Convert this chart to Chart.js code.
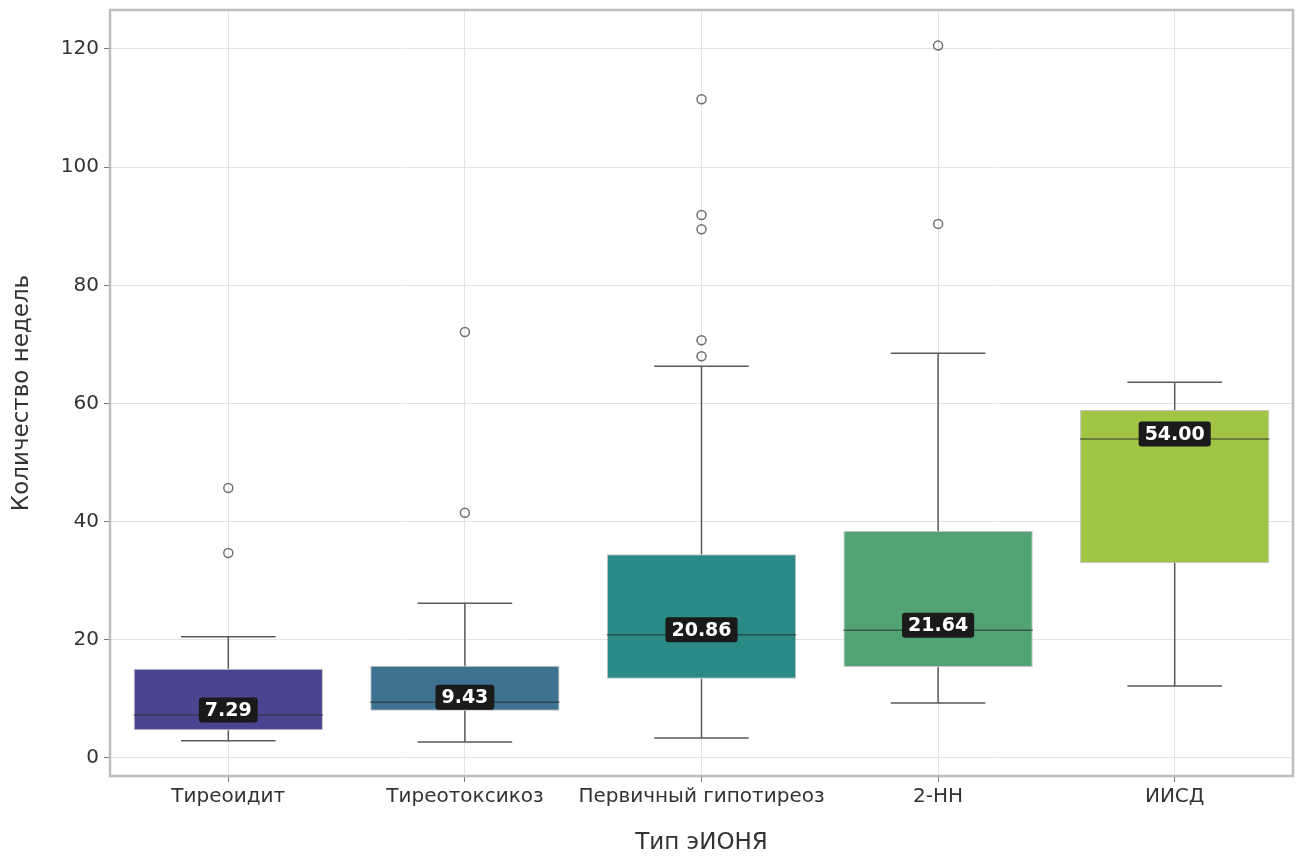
<!DOCTYPE html>
<html>
<head>
<meta charset="utf-8">
<script src="https://cdn.jsdelivr.net/npm/chart.js@4.4.1/dist/chart.umd.min.js"></script>
<style>
  html, body { margin: 0; padding: 0; background: #ffffff; }
  #wrap { width: 1299px; height: 857px; position: relative; }
</style>
</head>
<body>
<div id="wrap"><canvas id="c" width="1299" height="857"></canvas></div>
<script>
// ---- data ----
const categories = ['Тиреоидит', 'Тиреотоксикоз', 'Первичный гипотиреоз', '2-НН', 'ИИСД'];
const whiskerLow  = [2.9, 2.7, 3.4, 9.3, 12.2];
const q1Values    = [4.7, 8.0, 13.4, 15.4, 33.0];
const medianValues= [7.29, 9.43, 20.86, 21.64, 54.00];
const q3Values    = [15.1, 15.6, 34.5, 38.4, 58.9];
const whiskerHigh = [20.5, 26.2, 66.3, 68.5, 63.6];
const outliers1 = [34.7, 45.7];
const outliers2 = [41.5, 72.1];
const outliers3 = [68.0, 70.7, 89.5, 91.9, 111.5];
const outliers4 = [90.4, 120.6];
const outliers5 = [];
const yTicks = [0, 20, 40, 60, 80, 100, 120];

const boxColors = ['#4a4590', '#3f7190', '#2a8a85', '#52a373', '#a0c544'];
const allOutliers = [outliers1, outliers2, outliers3, outliers4, outliers5];

const outlierPoints = [];
allOutliers.forEach((arr, i) => arr.forEach(v => outlierPoints.push({x: categories[i], y: v})));

const FONT = '"DejaVu Sans"';

const boxPlugin = {
  id: 'boxExtras',
  beforeDatasetsDraw(chart) {
    const {ctx, chartArea} = chart;
    ctx.save();
    ctx.strokeStyle = '#bdbdbd';
    ctx.lineWidth = 2.5;
    ctx.strokeRect(chartArea.left, chartArea.top, chartArea.right - chartArea.left, chartArea.bottom - chartArea.top);
    ctx.restore();
    const xs = chart.scales.x, ys = chart.scales.y;
    const band = xs.getPixelForValue(1) - xs.getPixelForValue(0);
    ctx.save();
    ctx.strokeStyle = '#5a5a5a';
    ctx.lineWidth = 1.5;
    categories.forEach((c, i) => {
      const cx = xs.getPixelForValue(i);
      const capHalf = band * 0.2;
      const yl = ys.getPixelForValue(whiskerLow[i]);
      const yh = ys.getPixelForValue(whiskerHigh[i]);
      const yq1 = ys.getPixelForValue(q1Values[i]);
      const yq3 = ys.getPixelForValue(q3Values[i]);
      ctx.beginPath();
      ctx.moveTo(cx, yl); ctx.lineTo(cx, yq1);
      ctx.moveTo(cx, yq3); ctx.lineTo(cx, yh);
      ctx.moveTo(cx - capHalf, yl); ctx.lineTo(cx + capHalf, yl);
      ctx.moveTo(cx - capHalf, yh); ctx.lineTo(cx + capHalf, yh);
      ctx.stroke();
    });
    ctx.restore();
  },
  afterDatasetsDraw(chart) {
    const {ctx} = chart;
    const xs = chart.scales.x, ys = chart.scales.y;
    const band = xs.getPixelForValue(1) - xs.getPixelForValue(0);
    ctx.save();
    categories.forEach((c, i) => {
      const cx = xs.getPixelForValue(i);
      const half = band * 0.4;
      const ym = ys.getPixelForValue(medianValues[i]);
      ctx.strokeStyle = 'rgba(40,40,40,0.6)';
      ctx.lineWidth = 1.5;
      ctx.beginPath();
      ctx.moveTo(cx - half, ym); ctx.lineTo(cx + half, ym);
      ctx.stroke();
      const txt = medianValues[i].toFixed(2);
      ctx.font = 'bold 19px ' + FONT;
      const w = ctx.measureText(txt).width;
      const bw = w + 12, bh = 25;
      const ly = ym - 5;
      ctx.fillStyle = '#1a1a1a';
      ctx.beginPath();
      ctx.roundRect(cx - bw / 2, ly - bh / 2, bw, bh, 3);
      ctx.fill();
      ctx.fillStyle = '#ffffff';
      ctx.textAlign = 'center';
      ctx.textBaseline = 'middle';
      ctx.fillText(txt, cx, ly + 1);
    });
    ctx.restore();
  }
};

new Chart(document.getElementById('c'), {
  type: 'bar',
  data: {
    labels: categories,
    datasets: [
      {
        type: 'bar',
        data: categories.map((c, i) => [q1Values[i], q3Values[i]]),
        backgroundColor: boxColors,
        borderColor: 'rgba(60,60,60,0.3)',
        borderWidth: 1,
        borderSkipped: false,
        barPercentage: 0.8,
        categoryPercentage: 1.0,
        order: 2
      },
      {
        type: 'line',
        data: outlierPoints,
        showLine: false,
        pointStyle: 'circle',
        pointRadius: 4.5,
        pointBorderWidth: 1.5,
        pointBorderColor: '#707070',
        pointBackgroundColor: 'rgba(255,255,255,0)',
        order: 1
      }
    ]
  },
  options: {
    responsive: false,
    animation: false,
    events: [],
    layout: { padding: { top: 10, right: 3, left: 0, bottom: 0 } },
    plugins: { legend: { display: false }, tooltip: { enabled: false } },
    scales: {
      x: {
        type: 'category',
        offset: true,
        grid: { offset: false, color: '#e4e4e4', lineWidth: 1, tickLength: 6, tickColor: '#777' },
        border: { display: true, color: '#8a8a8a', width: 2 },
        ticks: { color: '#333', font: { family: FONT, size: 20 }, padding: 3, maxRotation: 0, autoSkip: false },
        title: { display: true, text: 'Тип эИОНЯ', color: '#333', font: { family: FONT, size: 23 }, padding: { top: 4, bottom: 0 } },
        afterFit: s => { s.height = 81; s.paddingLeft = 0; s.paddingRight = 0; }
      },
      y: {
        min: -3.05,
        max: 126.6,
        grid: { color: '#e4e4e4', lineWidth: 1, tickLength: 6, tickColor: '#777' },
        border: { display: true, color: '#8a8a8a', width: 2 },
        ticks: { stepSize: 20, color: '#333', font: { family: FONT, size: 20 }, padding: 5 },
        afterBuildTicks: s => { s.ticks = yTicks.map(v => ({ value: v })); },
        title: { display: true, text: 'Количество недель', color: '#333', font: { family: FONT, size: 23 }, padding: { top: 8, bottom: 4 } },
        afterFit: s => { s.width = 110; s.paddingTop = 0; s.paddingBottom = 0; }
      }
    }
  },
  plugins: [boxPlugin]
});
</script>
</body>
</html>
